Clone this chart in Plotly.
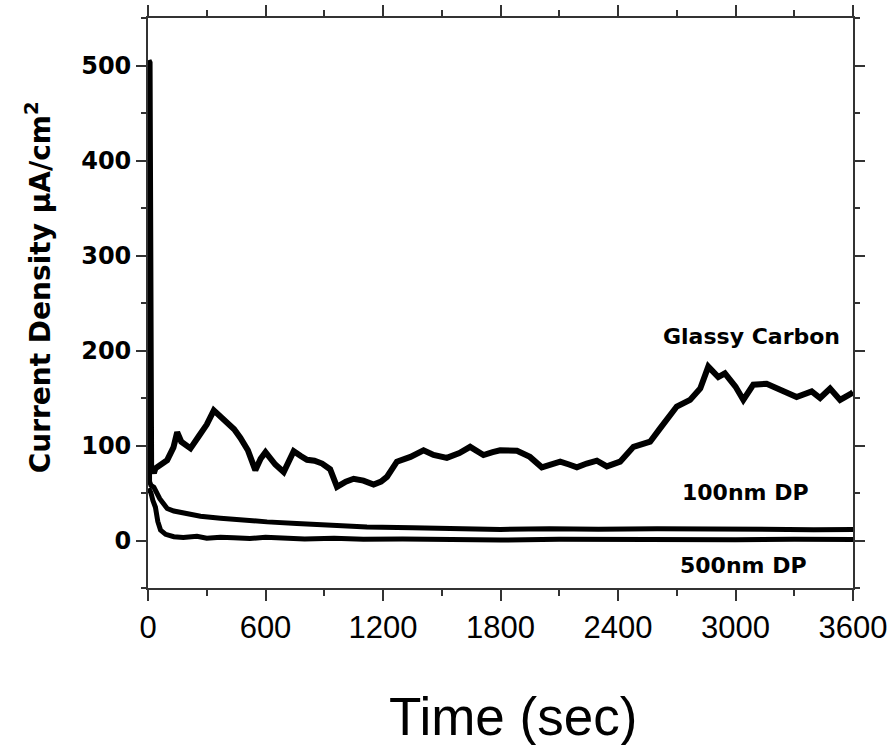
import plotly.graph_objects as go

# ---- data ----
gc_t = [0, 3, 8, 16, 30, 38, 70, 98, 130, 149, 170, 185, 217, 260, 300, 336, 370, 404,
        440, 472, 510, 548, 575, 600, 650, 693, 744, 780, 812, 850, 889, 930, 965,
        1010, 1050, 1100, 1152, 1190, 1220, 1271, 1340, 1407, 1458, 1526, 1590, 1645,
        1713, 1760, 1798, 1884, 1950, 2011, 2060, 2105, 2150, 2190, 2240, 2292,
        2343, 2411, 2479, 2520, 2564, 2615, 2660, 2700, 2768, 2820, 2861, 2890, 2912,
        2946, 3000, 3040, 3091, 3159, 3227, 3312, 3389, 3432, 3483, 3534, 3593, 3600]
gc_v = [80, 505, 503, 78, 71, 76, 80, 84.6, 98, 114, 104, 102, 97, 110, 122, 137, 131, 125,
        117, 108, 95, 74, 86, 93, 80, 72, 94, 89, 85, 84, 81, 75, 56.5,
        62, 65, 63, 59, 62, 67, 83, 88, 95, 90, 87, 92, 98.6,
        90, 93, 95, 94.4, 88, 77, 80, 83, 80, 77, 81, 84,
        78, 83, 98.6, 101, 104, 118, 130, 141, 148, 160, 183, 177, 172,
        176, 162, 148, 164, 165, 158, 151, 157, 150, 160, 148, 155, 156]

dp100_t = [3, 8, 15, 30, 60, 98, 132, 200, 268, 370, 480, 608, 760, 900, 1118, 1350,
           1550, 1799, 2050, 2300, 2600, 2900, 3200, 3400, 3600]
dp100_v = [370, 62, 58, 56, 44, 33.7, 31, 28, 25.6, 23.5, 21.5, 19.6, 18, 16.2, 14.3, 13.5,
           12.6, 11.6, 12.5, 11.8, 12.4, 11.6, 11.9, 11.4, 11.6]

dp500_t = [3, 15, 25, 38, 50, 64, 90, 132, 180, 250, 300, 370, 437, 520, 600, 700,
           800, 950, 1100, 1300, 1500, 1800, 2100, 2400, 2700, 3000, 3300, 3600]
dp500_v = [55, 50, 42, 35, 20, 11, 6.5, 4, 3.2, 4.5, 2.5, 3.5, 3, 2, 3.4, 2.2,
           1.5, 2.3, 1.2, 1.6, 0.8, 0.5, 1.4, 0.9, 1.6, 0.8, 1.2, 1.0]

x_ticks = [0, 600, 1200, 1800, 2400, 3000, 3600]
y_ticks = [0, 100, 200, 300, 400, 500]

labels = ["Glassy Carbon", "100nm DP", "500nm DP"]
label_x = [3080, 3049, 3041]
label_y = [215, 51, -26]

fig = go.Figure()
fig.add_trace(go.Scatter(x=gc_t, y=gc_v, mode="lines",
                         line=dict(color="black", width=6), name=labels[0]))
fig.add_trace(go.Scatter(x=dp100_t, y=dp100_v, mode="lines",
                         line=dict(color="black", width=5), name=labels[1]))
fig.add_trace(go.Scatter(x=dp500_t, y=dp500_v, mode="lines",
                         line=dict(color="black", width=5), name=labels[2]))

for txt, lx, ly in zip(labels, label_x, label_y):
    fig.add_annotation(x=lx, y=ly, xref="x", yref="y", text=txt, showarrow=False,
                       xanchor="center", yanchor="middle",
                       font=dict(family="DejaVu Sans", size=22, color="black", weight="bold"))

fig.add_annotation(x=-0.155, y=0.527, xref="paper", yref="paper",
                   text="<b>Current Density μA/cm<sup>2</sup></b>", textangle=-90,
                   showarrow=False, xanchor="center", yanchor="middle",
                   font=dict(family="DejaVu Sans", size=28, color="black"))
fig.add_annotation(x=0.518, y=-0.2246, xref="paper", yref="paper",
                   text="Time (sec)", showarrow=False, xanchor="center", yanchor="middle",
                   font=dict(family="Liberation Sans", size=53, color="black"))

axis_common = dict(showline=True, linecolor="#333333", linewidth=1.8, mirror="ticks",
                   ticks="outside", tickcolor="#333333", tickwidth=1.8,
                   showgrid=False, zeroline=False)

fig.update_xaxes(range=[0, 3600], tickmode="array", tickvals=x_ticks,
                 ticklen=11,
                 minor=dict(dtick=300, tick0=0, ticks="outside", ticklen=6,
                            tickwidth=1.8, tickcolor="#333333"),
                 tickfont=dict(family="Liberation Sans", size=31, color="black"),
                 **axis_common)
fig.update_yaxes(range=[-50, 550], tickmode="array", tickvals=y_ticks,
                 ticklen=10,
                 minor=dict(dtick=50, tick0=0, ticks="outside", ticklen=5,
                            tickwidth=1.8, tickcolor="#333333"),
                 tickfont=dict(family="DejaVu Sans", size=24, color="black", weight="bold"),
                 **axis_common)

fig.update_layout(width=891, height=745, showlegend=False,
                  paper_bgcolor="white", plot_bgcolor="white",
                  margin=dict(l=147.5, r=38, t=18, b=157, autoexpand=False))

fig.write_html("out.html")
